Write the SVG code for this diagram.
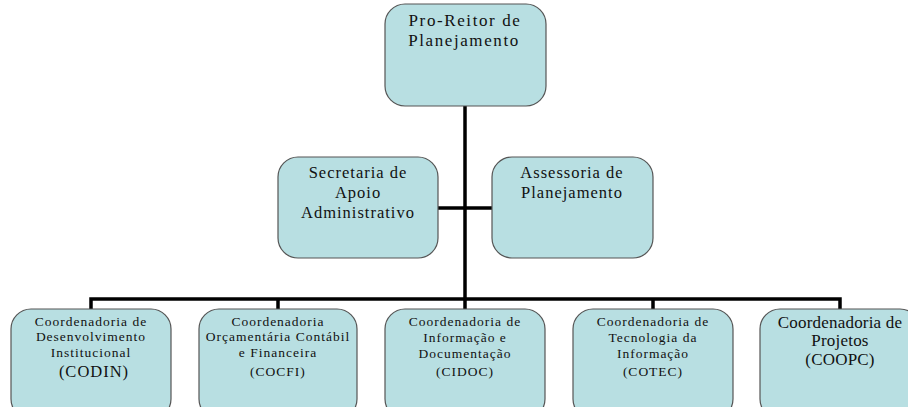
<svg xmlns="http://www.w3.org/2000/svg" width="908" height="407" viewBox="0 0 908 407">
<style>
.box{fill:#b8dfe2;stroke:#555;stroke-width:1.2}
text{font-family:'Liberation Serif','Times New Roman','DejaVu Serif',serif;fill:#111;text-anchor:middle}
.top{font-size:17px;letter-spacing:1.6px}
.l{font-size:16.5px;letter-spacing:1px}
.s{font-size:13.5px;letter-spacing:1px}
.p{font-size:17px;letter-spacing:0.2px}
.c{stroke:#000;stroke-width:3.5;fill:none}
</style>
<rect width="908" height="407" fill="#fff"/>
<g id="connectors">
<line class="c" x1="465" y1="106" x2="465" y2="299"/>
<line class="c" x1="438" y1="208" x2="492" y2="208"/>
<polyline class="c" points="91,309 91,299 840,299 840,309"/>
<line class="c" x1="278" y1="299" x2="278" y2="309"/>
<line class="c" x1="465" y1="299" x2="465" y2="309"/>
<line class="c" x1="653" y1="299" x2="653" y2="309"/>
</g>
<g id="pro-reitor">
<rect class="box" x="385" y="4" width="161" height="102" rx="20"/>
<text class="top" x="465" y="26">Pro-Reitor de</text>
<text class="top" x="464" y="46">Planejamento</text>
</g>
<g id="secretaria">
<rect class="box" x="278" y="157" width="160" height="101" rx="20"/>
<text class="l" x="358" y="178">Secretaria de</text>
<text class="l" x="358" y="198">Apoio</text>
<text class="l" x="358" y="218">Administrativo</text>
</g>
<g id="assessoria">
<rect class="box" x="492" y="157" width="161" height="101" rx="20"/>
<text class="l" x="572" y="178">Assessoria de</text>
<text class="l" x="572" y="198">Planejamento</text>
</g>
<g id="codin">
<rect class="box" x="11" y="309" width="160" height="110" rx="20"/>
<text class="s" x="91" y="326">Coordenadoria de</text>
<text class="s" x="91" y="341">Desenvolvimento</text>
<text class="s" x="91" y="357">Institucional</text>
<text class="l" x="94" y="377">(CODIN)</text>
</g>
<g id="cocfi">
<rect class="box" x="199" y="309" width="158" height="110" rx="20"/>
<text class="s" x="278" y="326">Coordenadoria</text>
<text class="s" x="278" y="341">Orçamentária Contábil</text>
<text class="s" x="278" y="357">e Financeira</text>
<text class="s" x="278" y="376">(COCFI)</text>
</g>
<g id="cidoc">
<rect class="box" x="385" y="309" width="160" height="110" rx="20"/>
<text class="s" x="465" y="326">Coordenadoria de</text>
<text class="s" x="465" y="342">Informação e</text>
<text class="s" x="465" y="358">Documentação</text>
<text class="s" x="465" y="376">(CIDOC)</text>
</g>
<g id="cotec">
<rect class="box" x="573" y="309" width="160" height="110" rx="20"/>
<text class="s" x="653" y="326">Coordenadoria de</text>
<text class="s" x="653" y="342">Tecnologia da</text>
<text class="s" x="653" y="358">Informação</text>
<text class="s" x="653" y="376">(COTEC)</text>
</g>
<g id="coopc">
<rect class="box" x="760" y="309" width="160" height="110" rx="20"/>
<text class="p" x="840" y="328">Coordenadoria de</text>
<text class="p" x="840" y="346">Projetos</text>
<text class="p" x="840" y="365">(COOPC)</text>
</g>
</svg>
